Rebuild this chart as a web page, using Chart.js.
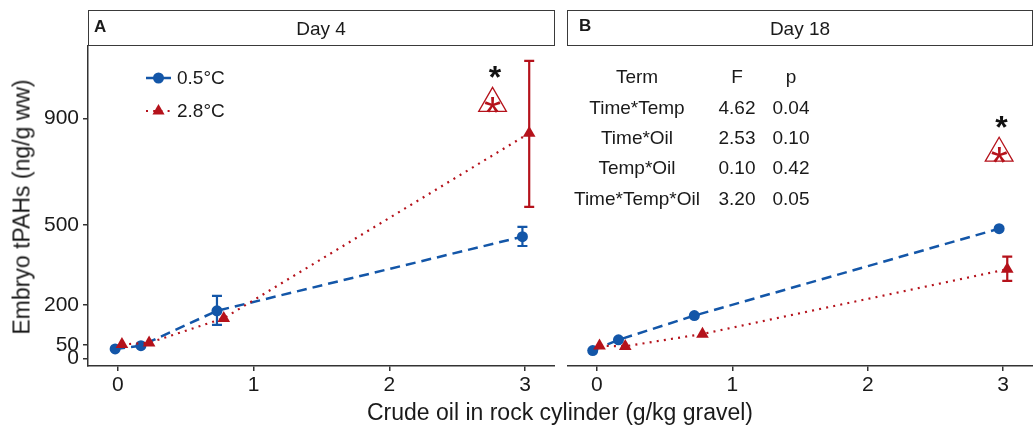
<!DOCTYPE html>
<html>
<head>
<meta charset="utf-8">
<script src="https://cdn.jsdelivr.net/npm/chart.js@4.4.1/dist/chart.umd.min.js"></script>
<style>
  body { margin: 0; background: #fff; font-family: "Liberation Sans", Arial, sans-serif; color: #1a1a1a; }
  #wrap { position: relative; width: 1035px; height: 425px; overflow: hidden; }
  canvas { position: absolute; top: 0; }
  .strip { position: absolute; top: 10px; height: 36px; box-sizing: border-box; border: 1.5px solid #3a3a3a; }
  .lbl { position: absolute; transform: translate(-50%, -50%); white-space: nowrap; }
  .tag { position: absolute; font-weight: bold; font-size: 17px; transform: translateY(-50%); }
</style>
</head>
<body>
<div id="wrap">
  <canvas id="dayA" width="555" height="425" style="left:0px"></canvas>
  <canvas id="dayB" width="466" height="425" style="left:567px"></canvas>

  <div class="strip" style="left:88px; width:467px"></div>
  <div class="strip" style="left:567px; width:466px"></div>
  <div class="tag" style="left:94px; top:26.5px">A</div>
  <div class="tag" style="left:579px; top:26px">B</div>
  <div class="lbl" style="left:321px; top:28.5px; font-size:19px">Day 4</div>
  <div class="lbl" style="left:800px; top:28.5px; font-size:19px">Day 18</div>

  <div id="tabla"></div>

  <div class="lbl" style="left:22px; top:207px; font-size:23px; transform: translate(-50%, -50%) rotate(-90deg)">Embryo tPAHs (ng/g ww)</div>
  <div class="lbl" style="left:560px; top:412px; font-size:23px">Crude oil in rock cylinder (g/kg gravel)</div>
</div>
<script>
// ejes compartidos
const xTicks = [0, 1, 2, 3];
const yTicks = [0, 50, 200, 500, 900];
const xMin = -0.22, xMax = 3.22;
const yMin = -29, yMax = 1171;

// Day 4
const oilColdD4 = [-0.02, 0.17, 0.73, 2.98];
const pahColdD4 = [35, 47, 178, 456];
const loColdD4 = [null, null, 125, 421];
const hiColdD4 = [null, null, 234, 493];
const oilWarmD4 = [0.03, 0.23, 0.78, 3.03];
const pahWarmD4 = [52, 58, 150, 844];
const loWarmD4 = [null, null, null, 568];
const hiWarmD4 = [null, null, null, 1115];
const starD4 = [2.78, 1075];
const markD4 = [2.76, 956];

// Day 18
const oilColdD18 = [-0.03, 0.16, 0.72, 2.97];
const pahColdD18 = [29, 69, 160, 486];
const loColdD18 = [null, null, null, null];
const hiColdD18 = [null, null, null, null];
const oilWarmD18 = [0.02, 0.21, 0.78, 3.03];
const pahWarmD18 = [47, 45, 91, 334];
const loWarmD18 = [null, null, null, 290];
const hiWarmD18 = [null, null, null, 381];
const starD18 = [2.99, 887];
const markD18 = [2.97, 769];

// tabla de interacciones
const terms = ['Time*Temp', 'Time*Oil', 'Temp*Oil', 'Time*Temp*Oil'];
const fVals = ['4.62', '2.53', '0.10', '3.20'];
const pVals = ['0.04', '0.10', '0.42', '0.05'];

const seriesNames = ['0.5°C', '2.8°C'];
const blue = '#1356A8';
const red = '#B5121B';
const family = '"Liberation Sans", Arial, sans-serif';

// tabla como texto
const tabla = document.getElementById('tabla');
const colX = [637, 737, 791];
const rowY = [77, 107.5, 138, 168, 198.5];
function celda(txt, x, y) {
  const d = document.createElement('div');
  d.className = 'lbl';
  d.style.left = x + 'px';
  d.style.top = y + 'px';
  d.style.fontSize = '19px';
  d.textContent = txt;
  tabla.appendChild(d);
}
['Term', 'F', 'p'].forEach((h, j) => celda(h, colX[j], rowY[0]));
terms.forEach((t, i) => {
  celda(t, colX[0], rowY[i + 1]);
  celda(fVals[i], colX[1], rowY[i + 1]);
  celda(pVals[i], colX[2], rowY[i + 1]);
});

function puntos(xs, ys) {
  return xs.map((v, i) => ({ x: v, y: ys[i] }));
}

function textoCentrado(ctx, txt, cx, cy) {
  const m = ctx.measureText(txt);
  const bx = cx - (m.actualBoundingBoxRight - m.actualBoundingBoxLeft) / 2;
  const by = cy + (m.actualBoundingBoxAscent - m.actualBoundingBoxDescent) / 2;
  ctx.fillText(txt, bx, by);
}

function makeExtras(o) {
  return {
    id: 'extras',
    beforeDatasetsDraw(chart) {
      const ctx = chart.ctx, xs = chart.scales.x, ys = chart.scales.y;
      o.bars.forEach(b => {
        ctx.save();
        ctx.strokeStyle = b.color;
        ctx.lineWidth = 2.2;
        b.oil.forEach((v, i) => {
          if (b.lo[i] == null) return;
          const px = xs.getPixelForValue(v);
          const y1 = ys.getPixelForValue(b.lo[i]);
          const y2 = ys.getPixelForValue(b.hi[i]);
          ctx.beginPath();
          ctx.moveTo(px, y1); ctx.lineTo(px, y2);
          ctx.moveTo(px - 5, y1); ctx.lineTo(px + 5, y1);
          ctx.moveTo(px - 5, y2); ctx.lineTo(px + 5, y2);
          ctx.stroke();
        });
        ctx.restore();
      });
    },
    afterDatasetsDraw(chart) {
      const ctx = chart.ctx, xs = chart.scales.x, ys = chart.scales.y;
      ctx.save();
      ctx.textBaseline = 'alphabetic';
      ctx.textAlign = 'left';
      ctx.fillStyle = '#111';
      ctx.font = 'bold 32px ' + family;
      textoCentrado(ctx, '*', xs.getPixelForValue(o.star[0]), ys.getPixelForValue(o.star[1]));
      ctx.fillStyle = red;
      ctx.font = '44px ' + family;
      textoCentrado(ctx, '*', xs.getPixelForValue(o.mark[0]), ys.getPixelForValue(o.mark[1]) + 1.5);
      ctx.restore();
    },
    afterDraw(chart) {
      if (!o.legend) return;
      const ctx = chart.ctx;
      ctx.save();
      // 0.5°C
      ctx.strokeStyle = blue; ctx.lineWidth = 2.5; ctx.setLineDash([10, 6]);
      ctx.beginPath(); ctx.moveTo(146, 78); ctx.lineTo(171, 78); ctx.stroke();
      ctx.setLineDash([]);
      ctx.fillStyle = blue;
      ctx.beginPath(); ctx.arc(158.5, 78, 5.5, 0, Math.PI * 2); ctx.fill();
      // 2.8°C
      ctx.strokeStyle = red; ctx.lineWidth = 2.2; ctx.setLineDash([2, 5.2]);
      ctx.beginPath(); ctx.moveTo(146, 111); ctx.lineTo(171, 111); ctx.stroke();
      ctx.setLineDash([]);
      ctx.fillStyle = red;
      const r = 7;
      ctx.beginPath();
      ctx.moveTo(158.5, 111 - r);
      ctx.lineTo(158.5 + r * 0.866, 111 + r / 2);
      ctx.lineTo(158.5 - r * 0.866, 111 + r / 2);
      ctx.closePath(); ctx.fill();
      ctx.fillStyle = '#1a1a1a';
      ctx.font = '19px ' + family;
      ctx.textBaseline = 'middle';
      ctx.fillText(seriesNames[0], 177, 79);
      ctx.fillText(seriesNames[1], 177, 112);
      ctx.restore();
    }
  };
}

function datasets(oc, pc, ow, pw, mark) {
  return [
    {
      label: 'mark', data: [{ x: mark[0], y: mark[1] }], showLine: false,
      pointStyle: 'triangle', pointRadius: 16, pointBackgroundColor: 'rgba(0,0,0,0)',
      pointBorderColor: red, pointBorderWidth: 1.3
    },
    {
      label: seriesNames[1], data: puntos(ow, pw), showLine: true,
      borderColor: red, borderWidth: 2.2, borderDash: [2, 5.2],
      pointStyle: 'triangle', pointRadius: 7.3, pointBackgroundColor: red, pointBorderWidth: 0
    },
    {
      label: seriesNames[0], data: puntos(oc, pc), showLine: true,
      borderColor: blue, borderWidth: 2.5, borderDash: [10, 6],
      pointStyle: 'circle', pointRadius: 5.5, pointBackgroundColor: blue, pointBorderWidth: 0
    }
  ];
}

function panel(id, sets, extras, showY) {
  return new Chart(document.getElementById(id), {
    type: 'scatter',
    data: { datasets: sets },
    options: {
      responsive: false,
      animation: false,
      events: [],
      layout: { autoPadding: false, padding: { top: 46, left: 0, right: 0, bottom: 0 } },
      plugins: { legend: { display: false }, tooltip: { enabled: false } },
      scales: {
        x: {
          type: 'linear', min: xMin, max: xMax,
          afterBuildTicks: s => { s.ticks = xTicks.map(v => ({ value: v })); },
          afterFit: s => { s.height = 59; s.paddingLeft = 0; s.paddingRight = 0; },
          ticks: { color: '#1a1a1a', font: { family, size: 21 }, padding: 2, callback: v => String(v) },
          grid: { drawOnChartArea: false, drawTicks: true, tickLength: 5, color: '#333', lineWidth: 1.5 },
          border: { display: true, color: '#333', width: 1.5 }
        },
        y: {
          display: showY, type: 'linear', min: yMin, max: yMax,
          afterBuildTicks: s => { s.ticks = yTicks.map(v => ({ value: v })); },
          afterFit: s => { s.width = showY ? 88 : 0; s.paddingTop = 0; s.paddingBottom = 0; },
          ticks: { color: '#1a1a1a', font: { family, size: 21 }, padding: 4, callback: v => String(v) },
          grid: { drawOnChartArea: false, drawTicks: true, tickLength: 5, color: '#333', lineWidth: 1.5 },
          border: { display: true, color: '#333', width: 1.5 }
        }
      }
    },
    plugins: [extras]
  });
}

panel('dayA',
  datasets(oilColdD4, pahColdD4, oilWarmD4, pahWarmD4, markD4),
  makeExtras({
    bars: [
      { oil: oilWarmD4, lo: loWarmD4, hi: hiWarmD4, color: red },
      { oil: oilColdD4, lo: loColdD4, hi: hiColdD4, color: blue }
    ],
    star: starD4, mark: markD4, legend: true
  }),
  true);

panel('dayB',
  datasets(oilColdD18, pahColdD18, oilWarmD18, pahWarmD18, markD18),
  makeExtras({
    bars: [
      { oil: oilWarmD18, lo: loWarmD18, hi: hiWarmD18, color: red },
      { oil: oilColdD18, lo: loColdD18, hi: hiColdD18, color: blue }
    ],
    star: starD18, mark: markD18, legend: false
  }),
  false);
</script>
</body>
</html>
